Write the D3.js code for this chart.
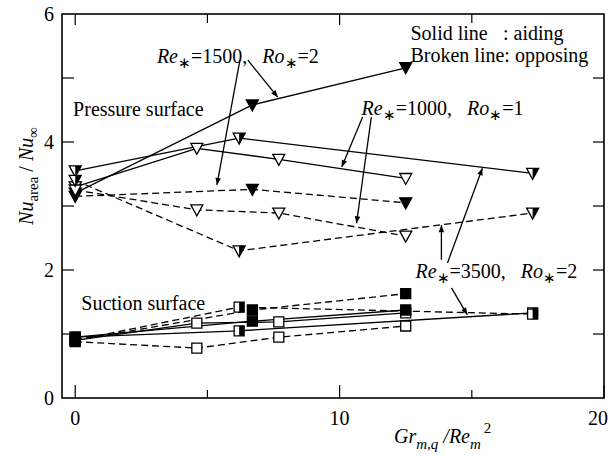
<!DOCTYPE html>
<html>
 <head>
  <meta charset="utf-8" />
  <title>Nu ratio vs buoyancy parameter</title>
  <style>
   body, html {
    margin: 0;
    padding: 0;
    background: white;
    overflow: hidden;
   }
   svg text {
    font-family: "Liberation Serif", "Times New Roman", serif;
    font-size: 20px;
    fill: #000;
   }
   .line {
    fill: none;
    stroke: #000;
    stroke-width: 1.3;
   }
   .line.opposing {
    stroke-dasharray: 7,4;
   }
   .arrow {
    stroke: #000;
    stroke-width: 1.3;
   }
  </style>
  <script src="https://cdnjs.cloudflare.com/ajax/libs/d3/7.9.0/d3.min.js"></script>
 </head>
 <body>
  <svg width="612" height="456"></svg>
  <script>
   // x positions (Gr/Re^2) for each Re* case
   const re1500x = [0, 6.7, 12.5];
   const re1000x = [0, 4.6, 7.7, 12.5];
   const re3500x = [0, 6.2, 17.3];

   // pressure surface, Nu_area/Nu_inf
   const pressAid1500 = [3.2, 4.58, 5.16];
   const pressOpp1500 = [3.15, 3.26, 3.05];
   const pressAid1000 = [3.3, 3.9, 3.73, 3.43];
   const pressOpp1000 = [3.25, 2.94, 2.89, 2.53];
   const pressAid3500 = [3.55, 4.06, 3.51];
   const pressOpp3500 = [3.4, 2.3, 2.89];

   // suction surface
   const suctAid1500 = [0.95, 1.2, 1.375];
   const suctOpp1500 = [0.9, 1.375, 1.63];
   const suctAid1000 = [0.9, 1.17, 1.19, 1.33];
   const suctOpp1000 = [0.88, 0.78, 0.95, 1.125];
   const suctAid3500 = [0.95, 1.05, 1.33];
   const suctOpp3500 = [0.9, 1.42, 1.31];

   const xTicks = [0, 5, 10, 15, 20];
   const yTicks = [0, 1, 2, 3, 4, 5, 6];
   const xLabels = [0, 10, 20];
   const yLabels = [0, 2, 4, 6];

   const series = [
    {x: re1500x, y: pressAid1500, shape: "tri", fill: "full", dash: false},
    {x: re1500x, y: pressOpp1500, shape: "tri", fill: "full", dash: true},
    {x: re1000x, y: pressAid1000, shape: "tri", fill: "open", dash: false},
    {x: re1000x, y: pressOpp1000, shape: "tri", fill: "open", dash: true},
    {x: re3500x, y: pressAid3500, shape: "tri", fill: "half", dash: false},
    {x: re3500x, y: pressOpp3500, shape: "tri", fill: "half", dash: true},
    {x: re1000x, y: suctAid1000, shape: "sq", fill: "open", dash: false},
    {x: re1000x, y: suctOpp1000, shape: "sq", fill: "open", dash: true},
    {x: re3500x, y: suctAid3500, shape: "sq", fill: "half", dash: false},
    {x: re3500x, y: suctOpp3500, shape: "sq", fill: "half", dash: true},
    {x: re1500x, y: suctAid1500, shape: "sq", fill: "full", dash: false},
    {x: re1500x, y: suctOpp1500, shape: "sq", fill: "full", dash: true}
   ];

   const margin = {left: 62, top: 14, right: 8, bottom: 58};
   const width = 612 - margin.left - margin.right;
   const height = 456 - margin.top - margin.bottom;

   const svg = d3.select("svg");
   const g = svg.append("g").attr("transform", `translate(${margin.left},${margin.top})`);

   const x = d3.scaleLinear().domain([-0.5, 20]).range([0, width]);
   const y = d3.scaleLinear().domain([0, 6]).range([height, 0]);

   svg.append("defs").append("marker")
    .attr("id", "head")
    .attr("viewBox", "0 -5 10 10")
    .attr("refX", 10)
    .attr("refY", 0)
    .attr("orient", "auto")
    .attr("markerUnits", "userSpaceOnUse")
    .attr("markerWidth", 11)
    .attr("markerHeight", 7)
    .append("path")
    .attr("d", "M0,-4L10,0L0,4Z")
    .attr("fill", "#000");

   // frame and inward ticks
   g.append("rect")
    .attr("width", width).attr("height", height)
    .attr("fill", "none").attr("stroke", "#000").attr("stroke-width", 1.6);

   const major = v => xLabels.includes(v);
   g.selectAll(".xt-b").data(xTicks).enter().append("line")
    .attr("x1", d => x(d)).attr("x2", d => x(d))
    .attr("y1", height).attr("y2", d => height - (major(d) ? 13 : 8))
    .attr("stroke", "#000").attr("stroke-width", 1.2);
   g.selectAll(".xt-t").data(xTicks.filter(d => d < 20)).enter().append("line")
    .attr("x1", d => x(d)).attr("x2", d => x(d))
    .attr("y1", 0).attr("y2", d => major(d) ? 11 : 9)
    .attr("stroke", "#000").attr("stroke-width", 1.2);
   g.selectAll(".yt-l").data(yTicks.slice(1, -1)).enter().append("line")
    .attr("x1", 0).attr("x2", 12)
    .attr("y1", d => y(d)).attr("y2", d => y(d))
    .attr("stroke", "#000").attr("stroke-width", 1.2);
   g.selectAll(".yt-r").data(yTicks.slice(1, -1)).enter().append("line")
    .attr("x1", width).attr("x2", width - 11)
    .attr("y1", d => y(d)).attr("y2", d => y(d))
    .attr("stroke", "#000").attr("stroke-width", 1.2);

   // last x label sits flush with the right edge, as in the original
   g.selectAll(".xl").data(xLabels).enter().append("text")
    .attr("x", d => d === 20 ? x(d) + 4 : x(d)).attr("y", height + 27)
    .attr("text-anchor", d => d === 20 ? "end" : "middle").text(d => d);
   g.selectAll(".yl").data(yLabels).enter().append("text")
    .attr("x", -8).attr("y", d => y(d) + 7)
    .attr("text-anchor", "end").text(d => d);

   // lines
   const line = d3.line().x(d => x(d[0])).y(d => y(d[1]));
   series.forEach(s => {
    g.append("path")
     .attr("class", "line" + (s.dash ? " opposing" : ""))
     .attr("d", line(s.x.map((v, i) => [v, s.y[i]])));
   });

   // markers
   const tri = "M-6,-5L6,-5L0,6Z", triHalf = "M0,-5L6,-5L0,6Z";
   const sq = "M-5,-5L5,-5L5,5L-5,5Z", sqHalf = "M0,-5L5,-5L5,5L0,5Z";
   series.forEach(s => {
    const pts = s.x.map((v, i) => [v, s.y[i]]);
    const m = g.append("g").selectAll("g").data(pts).enter().append("g")
     .attr("transform", d => `translate(${x(d[0])},${y(d[1])})`);
    m.append("path")
     .attr("d", s.shape === "tri" ? tri : sq)
     .attr("fill", s.fill === "full" ? "#000" : "#fff")
     .attr("stroke", "#000").attr("stroke-width", 1.3).attr("stroke-linejoin", "miter");
    if(s.fill === "half")
     m.append("path").attr("d", s.shape === "tri" ? triHalf : sqHalf).attr("fill", "#000");
   });

   // annotations (data coordinates)
   function caseLabel(px, py, re, ro) {
    const t = g.append("text").attr("x", x(px)).attr("y", y(py));
    t.append("tspan").attr("font-style", "italic").text("Re");
    t.append("tspan").attr("font-size", 15).attr("dy", 5).text("\u2217");
    t.append("tspan").attr("dy", -5).text("=" + re + ",\u00a0\u00a0 ");
    t.append("tspan").attr("font-style", "italic").text("Ro");
    t.append("tspan").attr("font-size", 15).attr("dy", 5).text("\u2217");
    t.append("tspan").attr("dy", -5).text("=" + ro);
   }
   caseLabel(3.09, 5.23, 1500, 2);
   caseLabel(10.83, 4.42, 1000, 1);
   caseLabel(12.87, 1.875, 3500, 2);

   g.append("text").attr("x", x(-0.08)).attr("y", y(4.41)).text("Pressure surface");
   g.append("text").attr("x", x(0.23)).attr("y", y(1.375)).text("Suction surface");
   g.append("text").attr("x", x(12.68)).attr("y", y(5.59)).text("Solid line");
   g.append("text").attr("x", x(16.18)).attr("y", y(5.59)).text(": aiding");
   g.append("text").attr("x", x(12.68)).attr("y", y(5.25)).text("Broken line: opposing");

   const arrows = [
    [6.23, 5.28, 5.36, 3.33],
    [6.53, 5.28, 7.66, 4.70],
    [10.87, 4.39, 10.08, 3.61],
    [11.2, 4.39, 10.64, 2.73],
    [13.85, 2.16, 13.85, 2.70],
    [14.08, 2.11, 15.4, 3.59],
    [14.23, 1.72, 14.83, 1.30]
   ];
   g.selectAll(".arrow").data(arrows).enter().append("line")
    .attr("class", "arrow")
    .attr("x1", d => x(d[0])).attr("y1", d => y(d[1]))
    .attr("x2", d => x(d[2])).attr("y2", d => y(d[3]))
    .attr("marker-end", "url(#head)");

   // axis titles
   const yt = svg.append("text")
    .attr("transform", "translate(33,176) rotate(-90)")
    .attr("text-anchor", "middle");
   yt.append("tspan").attr("font-style", "italic").text("Nu");
   yt.append("tspan").attr("font-size", 15).attr("dy", 5).text("area");
   yt.append("tspan").attr("dy", -5).text(" / ");
   yt.append("tspan").attr("font-style", "italic").text("Nu");
   yt.append("tspan").attr("font-size", 15).attr("dy", 5).text("\u221e");

   const xt = svg.append("text").attr("x", 394).attr("y", 443);
   xt.append("tspan").attr("font-style", "italic").text("Gr");
   xt.append("tspan").attr("font-style", "italic").attr("font-size", 15).attr("dy", 6).text("m,q");
   xt.append("tspan").attr("font-style", "italic").attr("dy", -6).text(" /Re");
   xt.append("tspan").attr("font-style", "italic").attr("font-size", 15).attr("dy", 6).text("m");
   xt.append("tspan").attr("font-size", 15).attr("dy", -16).attr("dx", 3).text("2");
  </script>
 </body>
</html>
